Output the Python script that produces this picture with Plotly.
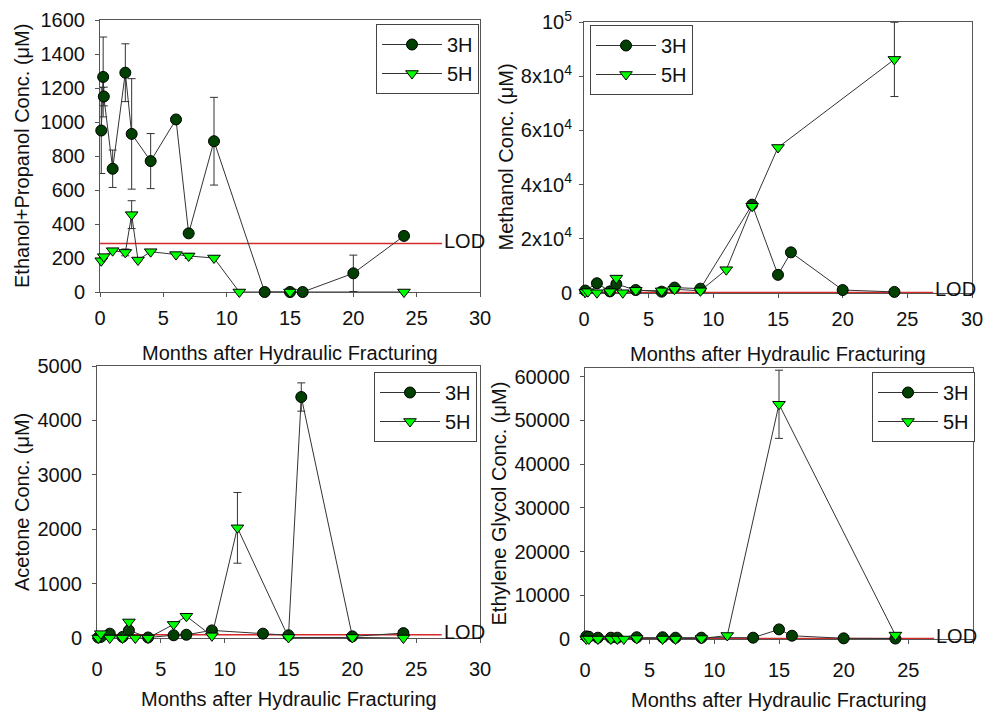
import plotly.graph_objects as go

# ---------------- data ----------------
# Panel 1: Ethanol + Propanol
x3_eth = [0.1, 0.25, 0.3, 1, 2, 2.5, 4, 6, 7, 9, 13, 15, 16, 20, 24]
y3_eth = [950, 1265, 1150, 725, 1290, 930, 770, 1015, 345, 887, 0, 0, 0, 110, 330]
e3_eth = [253, 235, 55, 110, 170, 325, 162, 15, 10, 258, 0, 0, 0, 107, 22]
x5_eth = [0.1, 0.3, 1, 2, 2.5, 3, 4, 6, 7, 9, 11, 15, 24]
y5_eth = [184, 208, 243, 233, 455, 188, 237, 220, 212, 200, 0, 0, 0]
e5_eth = [0, 0, 0, 20, 82, 0, 0, 0, 15, 0, 0, 0, 0]

# Panel 2: Methanol
x3_meth = [0.1, 1, 2, 2.5, 4, 6, 7, 9, 13, 15, 16, 20, 24]
y3_meth = [900, 3600, 600, 3300, 1100, 500, 2000, 1600, 32600, 6700, 15000, 1100, 400]
e3_meth = [0, 0, 0, 0, 0, 0, 0, 0, 1000, 0, 0, 0, 0]
x5_meth = [0.1, 0.3, 1, 2, 2.5, 3, 4, 6, 7, 9, 11, 13, 15, 24]
y5_meth = [300, 500, 100, 500, 5500, 100, 1000, 800, 1400, 800, 8600, 32000, 53700, 86200]
e5_meth = [0, 0, 0, 0, 0, 0, 0, 0, 0, 0, 0, 0, 0, 13700]

# Panel 3: Acetone
x3_ace = [0.1, 0.3, 1, 2, 2.5, 4, 6, 7, 9, 13, 15, 16, 20, 24]
y3_ace = [10, 20, 80, 20, 140, 10, 50, 60, 140, 80, 50, 4430, 30, 90]
e3_ace = [0, 0, 0, 0, 0, 0, 0, 0, 0, 0, 0, 260, 0, 0]
x5_ace = [0.1, 0.3, 1, 2, 2.5, 3, 4, 6, 7, 9, 11, 15, 20, 24]
y5_ace = [0, 80, 0, 0, 295, 0, 0, 250, 400, 40, 2025, 10, 10, 0]
e5_ace = [0, 0, 0, 0, 0, 0, 0, 0, 0, 0, 650, 0, 0, 0]

# Panel 4: Ethylene Glycol
x3_eg = [0.1, 0.3, 1, 2, 2.5, 4, 6, 7, 9, 13, 15, 16, 20, 24]
y3_eg = [600, 500, 300, 300, 300, 400, 400, 300, 300, 300, 2200, 750, 150, 100]
e3_eg = [0] * 14
x5_eg = [0.1, 0.3, 1, 2, 2.5, 3, 4, 6, 7, 9, 11, 15, 24]
y5_eg = [0, 0, 0, 0, 0, 0, 100, 0, 0, 100, 800, 53700, 900]
e5_eg = [0, 0, 0, 0, 0, 0, 0, 0, 0, 0, 0, 7800, 0]

# Limits of detection and LOD line extent
lod_values = [285, 200, 60, 100]
lod_x = [0, 27]

series_names = ["3H", "5H"]
y_titles = ["Ethanol+Propanol Conc. (\u03bcM)", "Methanol Conc. (\u03bcM)",
            "Acetone Conc. (\u03bcM)", "Ethylene Glycol Conc. (\u03bcM)"]
x_title = "Months after Hydraulic Fracturing"
x_ticks = [0, 5, 10, 15, 20, 25, 30]
y_ticks = [
    [0, 200, 400, 600, 800, 1000, 1200, 1400, 1600],
    [0, 20000, 40000, 60000, 80000, 100000],
    [0, 1000, 2000, 3000, 4000, 5000],
    [0, 10000, 20000, 30000, 40000, 50000, 60000],
]
y_ticktext_meth = ["0", "2x10<sup>4</sup>", "4x10<sup>4</sup>", "6x10<sup>4</sup>",
                   "8x10<sup>4</sup>", "10<sup>5</sup>"]
y_ranges = [[0, 1600], [0, 100000], [0, 5000], [0, 62000]]

panels = [
    (x3_eth, y3_eth, e3_eth, x5_eth, y5_eth, e5_eth),
    (x3_meth, y3_meth, e3_meth, x5_meth, y5_meth, e5_meth),
    (x3_ace, y3_ace, e3_ace, x5_ace, y5_ace, e5_ace),
    (x3_eg, y3_eg, e3_eg, x5_eg, y5_eg, e5_eg),
]

# ---------------- layout helpers ----------------
W, H = 984, 711
def PX(p):
    return p / W
def PY(p):
    return 1 - p / H

# plot boxes in pixels: (left, right, top, bottom)
boxes = [(100, 480, 20, 292), (584, 972, 22, 293), (97, 480, 366, 638), (585, 973, 368, 639)]

FONT = "Liberation Sans, Arial, sans-serif"
FS = 20
DARK = "#004000"
BRIGHT = "#00ff00"
LINEC = "#333333"
AXC = "#555555"

fig = go.Figure()

for i, (xa, ya, ea, xb, yb, eb) in enumerate(panels):
    n = "" if i == 0 else str(i + 1)
    xref, yref = "x" + n, "y" + n
    leg = "legend" + n
    # LOD line
    fig.add_trace(go.Scatter(x=lod_x, y=[lod_values[i]] * 2, mode="lines",
                             line=dict(color="#d42a2a", width=1.5),
                             xaxis=xref, yaxis=yref, showlegend=False,
                             hoverinfo="skip", cliponaxis=False))
    fig.add_trace(go.Scatter(
        x=xa, y=ya, mode="lines+markers", name=series_names[0],
        line=dict(color=LINEC, width=1),
        marker=dict(symbol="circle", size=11, color=DARK, line=dict(color="#000000", width=1)),
        error_y=dict(type="data", array=ea, visible=True, color="#333333", thickness=1, width=4),
        xaxis=xref, yaxis=yref, legend=leg, cliponaxis=False))
    fig.add_trace(go.Scatter(
        x=xb, y=yb, mode="lines+markers", name=series_names[1],
        line=dict(color=LINEC, width=1),
        marker=dict(symbol="triangle-down", size=11, color=BRIGHT, line=dict(color="#000000", width=1)),
        error_y=dict(type="data", array=eb, visible=True, color="#333333", thickness=1, width=4),
        xaxis=xref, yaxis=yref, legend=leg, cliponaxis=False))

layout = dict(
    width=W, height=H, margin=dict(l=0, r=0, t=0, b=0),
    paper_bgcolor="white", plot_bgcolor="white",
    font=dict(family=FONT, size=FS, color="#111111"),
    showlegend=True,
)

legend_pos = [
    dict(x=PX(479), y=PY(24), xanchor="right", yanchor="top"),
    dict(x=PX(590), y=PY(25), xanchor="left", yanchor="top"),
    dict(x=PX(477), y=PY(372), xanchor="right", yanchor="top"),
    dict(x=PX(975), y=PY(372), xanchor="right", yanchor="top"),
]

y_title_x = [22, 506, 22, 498]
x_standoff = [4, 4, 9, 9]

annotations = []
for i, (l, r, t, b) in enumerate(boxes):
    n = "" if i == 0 else str(i + 1)
    layout["xaxis" + n] = dict(
        domain=[PX(l), PX(r)], range=[0, 30], anchor="y" + n,
        tickvals=x_ticks, ticks="outside", ticklen=4, tickcolor=AXC,
        showline=True, linecolor=AXC, linewidth=1, mirror=True,
        showgrid=False, zeroline=False, layer="below traces",
        tickfont=dict(size=FS), automargin=False, ticklabelstandoff=x_standoff[i],
    )
    ydict = dict(
        domain=[PY(b), PY(t)], range=y_ranges[i], anchor="x" + n,
        tickvals=y_ticks[i], ticks="outside", ticklen=4, tickcolor=AXC,
        showline=True, linecolor=AXC, linewidth=1, mirror=True,
        showgrid=False, zeroline=False, layer="below traces", tickformat="d",
        tickfont=dict(size=FS), automargin=False, ticklabelstandoff=6,
    )
    if i == 1:
        ydict["ticktext"] = y_ticktext_meth
        ydict["ticklabelstandoff"] = 3
    layout["yaxis" + n] = ydict
    leg = dict(legend_pos[i])
    leg.update(bgcolor="white", bordercolor="#444444", borderwidth=1,
               font=dict(size=FS), tracegroupgap=0, itemwidth=60)
    layout["legend" + n] = leg

    # x axis title
    annotations.append(dict(text=x_title, x=PX((l + r) / 2), y=PY(b + 61), xref="paper", yref="paper",
                            showarrow=False, xanchor="center", yanchor="middle",
                            font=dict(size=FS)))
    # y axis title
    annotations.append(dict(text=y_titles[i], x=PX(y_title_x[i]), y=PY((t + b) / 2), xref="paper",
                            yref="paper", showarrow=False, xanchor="center", yanchor="middle",
                            textangle=-90, font=dict(size=FS)))
    # LOD label
    annotations.append(dict(text="LOD", x=lod_x[1], y=lod_values[i], xref="x" + n, yref="y" + n,
                            showarrow=False, xanchor="left", yanchor="middle", xshift=0, yshift=3,
                            font=dict(size=FS)))

layout["annotations"] = annotations
fig.update_layout(**layout)

fig.write_html("out.html", config={"displayModeBar": False},
               post_script="document.body.style.margin='0';document.body.style.padding='0';"
                           "document.body.style.overflow='hidden';")
